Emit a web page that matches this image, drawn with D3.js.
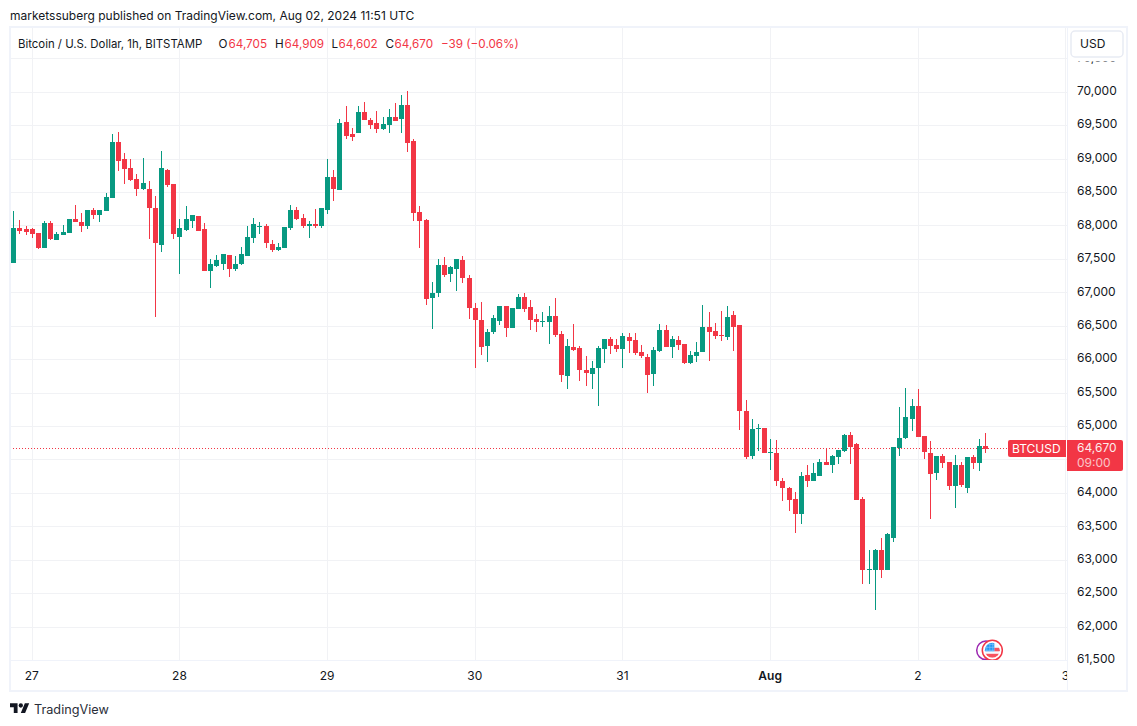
<!DOCTYPE html>
<html>
<head>
<meta charset="utf-8">
<title>BTCUSD</title>
<script src="https://cdn.jsdelivr.net/npm/d3@7"></script>
<style>
  html, body { margin: 0; padding: 0; background: #fff; }
  svg { display: block; }
  text { font-family: Inter, "Noto Sans", sans-serif; fill: #131722; }
</style>
</head>
<body>
<script>
// hourly bars, BITSTAMP BTCUSD
var firstBar = "2024-07-26T21:00:00Z"

var opens = [
  67450,67973,67958,67958,67898,67674,68048,67794,67868,67898,
  68107,68063,68003,68242,68167,68227,68421,69258,69004,68869,
  68705,68556,68556,68272,67719,68839,68630,67838,67943,68077,
  68152,67958,67330,67405,67435,67570,67360,67435,67555,67824,
  67993,68003,67734,67644,67674,67973,68242,68122,68003,68033,
  68003,68242,68735,68541,69557,69377,69392,69706,69586,69542,
  69452,69512,69631,69601,69811,69273,68212,68092,66927,67002,
  67420,67286,67360,67495,67226,66778,66598,66208,66417,66581,
  66806,66477,66761,66940,66791,66611,66567,66567,66656,66387,
  65760,66193,66178,65849,65790,65879,66163,66313,66223,66163,
  66342,66298,66118,66044,65790,66133,66447,66193,66298,66238,
  65954,66059,66118,66492,66432,66372,66342,66671,66522,65237,
  64565,64968,64983,64614,64609,64191,64086,63922,63698,64281,
  64191,64266,64475,64430,64550,64639,64878,64744,63922,62861,
  62847,63160,62861,63339,64684,64833,65117,65312,64863,64609,
  64311,64565,64475,64116,64430,64086,64550,64460,64705
]
var highs = [
  68227,68092,68003,67973,67898,68078,68078,67913,68018,68107,
  68316,68197,68242,68272,68242,68496,69377,69407,69088,69004,
  68780,69019,68675,68451,69123,68854,68630,68107,68302,68167,
  68152,68048,67510,67570,67584,67570,67555,67689,68003,68122,
  68063,68033,67794,67749,67988,68316,68287,68182,68077,68257,
  68272,69004,68839,69601,69796,69467,69796,69855,69616,69721,
  69631,69751,69840,69960,70020,69303,68302,68107,67166,67510,
  67540,67405,67510,67555,67271,66852,66867,66462,66671,66806,
  66806,66776,66985,67000,66895,66686,66716,66806,66925,66432,
  66313,66537,66208,66059,65984,66208,66313,66342,66313,66402,
  66402,66402,66223,66088,66193,66537,66522,66357,66357,66238,
  66133,66268,66820,66716,66552,66731,66806,66731,66522,65401,
  65117,65043,64983,64819,64804,64236,64101,64027,64326,64430,
  64460,64520,64684,64580,64654,64893,64923,64759,63952,63160,
  63175,63339,63414,64699,65297,65580,65416,65565,64863,64789,
  64565,64595,64475,64580,64475,64550,64580,64819,64909
]
var lows = [
  67450,67883,67868,67823,67659,67674,67794,67794,67868,67898,
  68063,67913,67958,68107,68063,68227,68421,68824,68630,68675,
  68451,68541,67809,66643,67614,68585,67809,67286,67928,67973,
  67928,67330,67077,67390,67345,67241,67330,67420,67555,67749,
  67883,67674,67614,67629,67674,67943,68092,67973,67824,67973,
  67973,68182,68376,68541,69303,69273,69392,69586,69452,69392,
  69437,69392,69571,69392,69108,68077,67674,66822,66464,66942,
  67241,67166,67032,67151,66613,65880,66073,65969,66387,66522,
  66342,66477,66761,66716,66447,66417,66492,66238,66342,65670,
  65566,66133,65685,65610,65566,65312,65954,66088,66118,65879,
  66103,66073,66029,65506,65610,66118,66193,66029,66148,65939,
  65939,65969,66118,65984,66313,66283,66298,66133,64953,64520,
  64520,64639,64609,64355,64116,63892,63743,63414,63549,64101,
  64191,64266,64430,64311,64445,64624,64445,63907,62637,62637,
  62249,62727,62861,63280,64565,64819,64938,64848,64520,63623,
  64206,64385,64057,63788,64101,64012,64370,64340,64602
]
var closes = [
  67973,67928,67913,67883,67674,68048,67809,67883,67913,68107,
  68063,68003,68242,68167,68242,68436,69258,68974,68854,68690,
  68556,68645,68272,67749,68869,68615,67883,67973,68107,68167,
  67928,67330,67435,67495,67584,67360,67435,67584,67838,68033,
  68003,67749,67644,67689,67988,68242,68107,68003,68033,68003,
  68272,68735,68556,69542,69347,69332,69706,69586,69512,69452,
  69527,69631,69571,69811,69243,68197,68077,66912,67002,67420,
  67271,67390,67510,67226,66778,66598,66193,66417,66626,66806,
  66477,66776,66940,66761,66596,66567,66577,66656,66372,65775,
  66208,66148,65849,65805,65879,66178,66313,66208,66163,66357,
  66283,66103,66059,65775,66148,66447,66193,66313,66223,65954,
  66073,66118,66492,66417,66357,66357,66641,66492,65237,64550,
  64968,64983,64609,64624,64191,64086,63907,63698,64266,64191,
  64311,64475,64430,64565,64654,64878,64699,63907,62847,62876,
  63160,62861,63399,64699,64833,65147,65312,64848,64624,64296,
  64565,64460,64116,64430,64131,64550,64460,64714,64670
]

var priceTicks = [61500,62000,62500,63000,63500,64000,64500,65000,65500,66000,66500,67000,67500,68000,68500,69000,69500,70000,70500]
var timeTicks = ["2024-07-27","2024-07-28","2024-07-29","2024-07-30","2024-07-31","2024-08-01","2024-08-02","2024-08-03"]
var timeLabels = ["27","28","29","30","31","Aug","2","3"]

var publishedLine = "marketssuberg published on TradingView.com, Aug 02, 2024 11:51 UTC"
var symbolTitle = "Bitcoin / U.S. Dollar, 1h, BITSTAMP"
var legendLetters = ["O","H","L","C"]
var legendValues = ["64,705","64,909","64,602","64,670"]
var legendChange = "\u221239 (\u22120.06%)"
var lastPrice = 64670

var width = 1137
var height = 726
var red = "#f23645"
var green = "#089981"
var gridColor = "#f1f2f5"
var frameColor = "#f0f3fa"
var fontSize = "12px"

// chart frame
var paneLeft = 10, paneRight = 1067, paneTop = 27, paneBottom = 660, outerRight = 1127, outerBottom = 691

var svg = d3.select("body").append("svg")
  .attr("width", width)
  .attr("height", height)

var hour = 3600000
var t0 = new Date(firstBar).getTime()
var bars = opens.map(function(o, i) {
  return { t: new Date(t0 + i * hour), o: o, h: highs[i], l: lows[i], c: closes[i] }
})

// 00:00 on Jul 27 sits at x=32.3, 00:00 on Aug 2 at x=918.3
var x = d3.scaleUtc()
  .domain([new Date("2024-07-27"), new Date("2024-08-02")])
  .range([32.3, 918.3])

var y = d3.scaleLinear()
  .domain([61500, 70000])
  .range([660.5, 92.3])

// published line on top
svg.append("text")
  .attr("x", 10).attr("y", 20)
  .style("font-size", fontSize)
  .text(publishedLine)

// grid
var chart = svg.append("g")
var tickDates = timeTicks.map(function(d) { return new Date(d) })

chart.selectAll(".hgrid").data(priceTicks).enter().append("line")
  .attr("class", "hgrid")
  .attr("x1", paneLeft).attr("x2", paneRight)
  .attr("y1", function(d) { return Math.floor(y(d)) + 0.5 })
  .attr("y2", function(d) { return Math.floor(y(d)) + 0.5 })
  .attr("stroke", gridColor)

chart.selectAll(".vgrid").data(tickDates).enter().append("line")
  .attr("class", "vgrid")
  .attr("y1", paneTop).attr("y2", paneBottom)
  .attr("x1", function(d) { return Math.floor(x(d)) + 0.5 })
  .attr("x2", function(d) { return Math.floor(x(d)) + 0.5 })
  .attr("stroke", gridColor)

// last price line goes under the candles
chart.append("line")
  .attr("x1", paneLeft).attr("x2", 1008)
  .attr("y1", Math.floor(y(lastPrice)) + 0.5)
  .attr("y2", Math.floor(y(lastPrice)) + 0.5)
  .attr("stroke", red)
  .attr("stroke-dasharray", "1 2")

// candles
var candle = chart.selectAll(".candle").data(bars).enter().append("g")
  .attr("class", "candle")
  .attr("fill", function(d) { return d.c >= d.o ? green : red })

candle.append("rect")
  .attr("x", function(d) { return Math.floor(x(d.t)) })
  .attr("width", 1)
  .attr("y", function(d) { return Math.round(y(d.h)) })
  .attr("height", function(d) { return Math.max(1, Math.round(y(d.l)) - Math.round(y(d.h))) })

candle.append("rect")
  .attr("x", function(d) { return Math.floor(x(d.t)) - 2 })
  .attr("width", 5)
  .attr("y", function(d) { return Math.round(y(Math.max(d.o, d.c))) })
  .attr("height", function(d) { return Math.max(1, Math.round(y(Math.min(d.o, d.c))) - Math.round(y(Math.max(d.o, d.c)))) })

// legend row
var legend = svg.append("g").style("font-size", "11.7px")
legend.append("text").attr("x", 18).attr("y", 47.5).style("font-size", "11.4px").text(symbolTitle)
var letterX = [218.5, 275, 331.5, 385.5]
var valueX = [228.5, 284.5, 338.5, 394.5]
legendLetters.forEach(function(l, i) {
  legend.append("text").attr("x", letterX[i]).attr("y", 47.5).text(l)
  legend.append("text").attr("x", valueX[i]).attr("y", 47.5).style("fill", red).text(legendValues[i])
})
legend.append("text").attr("x", 441).attr("y", 47.5).style("fill", red).text(legendChange)

// events at the bottom of the pane
svg.append("circle")
  .attr("cx", 986).attr("cy", 650.3).attr("r", 9.3)
  .attr("fill", "#fff").attr("stroke", "#9c27b0").attr("stroke-width", 1.5)
var flag = svg.append("g").attr("transform", "translate(992.3,650.3)")
var defs = svg.append("defs")
defs.append("clipPath").attr("id", "flagclip").append("circle").attr("r", 7.5)
flag.append("circle").attr("r", 10).attr("fill", "#fff").attr("stroke", "#f23645").attr("stroke-width", 1.5)
var flagInner = flag.append("g").attr("clip-path", "url(#flagclip)")
flagInner.append("rect").attr("x", -8).attr("y", -8).attr("width", 16).attr("height", 16).attr("fill", "#f8f9fd")
flagInner.append("rect").attr("x", 2).attr("y", -2.5).attr("width", 6).attr("height", 3.5).attr("fill", "#f7525f")
flagInner.append("rect").attr("x", -8).attr("y", 3.5).attr("width", 16).attr("height", 4).attr("fill", "#f7525f")
flagInner.append("rect").attr("x", -8).attr("y", -8).attr("width", 10).attr("height", 9).attr("fill", "#2196f3")
;[-5.5, -2.5, 0.5].forEach(function(p) {
  flagInner.append("line").attr("x1", p).attr("x2", p).attr("y1", -8).attr("y2", 1).attr("stroke", "#90caf9").attr("stroke-width", 0.6)
  flagInner.append("line").attr("x1", -8).attr("x2", 2).attr("y1", p - 0.5).attr("y2", p - 0.5).attr("stroke", "#90caf9").attr("stroke-width", 0.6)
})

// time axis
svg.append("rect").attr("x", paneLeft).attr("y", paneBottom + 1).attr("width", paneRight - paneLeft).attr("height", outerBottom - paneBottom - 1).attr("fill", "#fff")

var xAxis = d3.axisBottom(x)
  .tickValues(tickDates)
  .tickSize(0)
  .tickPadding(11)
  .tickFormat(function(d, i) { return timeLabels[i] })

var xg = svg.append("g")
  .attr("transform", "translate(-1," + paneBottom + ")")
  .call(xAxis)
xg.select(".domain").remove()
xg.selectAll("text")
  .style("font-size", fontSize)
  .style("font-family", "Inter, sans-serif")
  .style("fill", "#131722")
  .style("font-weight", function(d, i) { return timeLabels[i] == "Aug" ? 600 : 400 })

// price axis panel hides whatever runs past the pane
svg.append("rect").attr("x", paneRight).attr("y", paneTop).attr("width", outerRight - paneRight).attr("height", outerBottom - paneTop).attr("fill", "#fff")

var yAxis = d3.axisRight(y)
  .tickValues(priceTicks)
  .tickSize(0)
  .tickPadding(10)
  .tickFormat(d3.format(","))

var yg = svg.append("g")
  .attr("transform", "translate(" + paneRight + ",-1.6)")
  .call(yAxis)
yg.select(".domain").remove()
yg.selectAll("text")
  .style("font-size", fontSize)
  .style("font-family", "Inter, sans-serif")
  .style("fill", "#131722")
  .style("text-anchor", "start")
// 64,500 sits behind the last price tag, so it never shows
yg.selectAll(".tick").filter(function(d) { return d == 64500 }).remove()

// frame lines
svg.append("line").attr("x1", paneRight + 0.5).attr("x2", paneRight + 0.5).attr("y1", paneTop).attr("y2", outerBottom).attr("stroke", frameColor)
svg.append("line").attr("x1", paneLeft).attr("x2", paneRight).attr("y1", paneBottom + 0.5).attr("y2", paneBottom + 0.5).attr("stroke", frameColor)
svg.append("rect")
  .attr("x", 10).attr("y", 27)
  .attr("width", outerRight - 10).attr("height", outerBottom - 27)
  .attr("fill", "none")
  .attr("stroke", frameColor).attr("stroke-width", 2)

// currency button, 70,500 only peeks out from under it
svg.append("rect").attr("x", 1068).attr("y", 29).attr("width", 58).attr("height", 32.5).attr("fill", "#fff")
svg.append("rect")
  .attr("x", 1071).attr("y", 31)
  .attr("width", 52).attr("height", 26).attr("rx", 4)
  .attr("fill", "#fff")
  .attr("stroke", "#e8ebf3").attr("stroke-width", 1.5)
svg.append("text").attr("x", 1080).attr("y", 48).style("font-size", fontSize).text("USD")

// last price tags
svg.append("path")
  .attr("d", "M1010,440H1066V457H1010a2,2 0 0 1 -2,-2V442a2,2 0 0 1 2,-2Z")
  .attr("fill", red)
svg.append("text").attr("x", 1012).attr("y", 453).style("font-size", fontSize).style("fill", "#fff").text("BTCUSD")
svg.append("path")
  .attr("d", "M1067,440H1121a2,2 0 0 1 2,2V469a2,2 0 0 1 -2,2H1067Z")
  .attr("fill", red)
svg.append("text").attr("x", 1077).attr("y", 451.5).style("font-size", fontSize).style("fill", "#fff").style("opacity", 0.9).text(d3.format(",")(lastPrice))
svg.append("text").attr("x", 1077).attr("y", 466.5).style("font-size", fontSize).style("fill", "#fff").style("opacity", 0.7).text("09:00")

// watermark
var logo = svg.append("g").attr("transform", "translate(10,701.2) scale(0.54)").attr("fill", "#131722")
logo.append("path").attr("d", "M14 22H7V11H0V4h14v18zM28 22h-8l7.5-18h8L28 22z")
logo.append("circle").attr("cx", 20).attr("cy", 8).attr("r", 4)
svg.append("text").attr("x", 34).attr("y", 714).style("font-size", "12.7px").style("fill", "#2a2e39").text("TradingView")
</script>
</body>
</html>
